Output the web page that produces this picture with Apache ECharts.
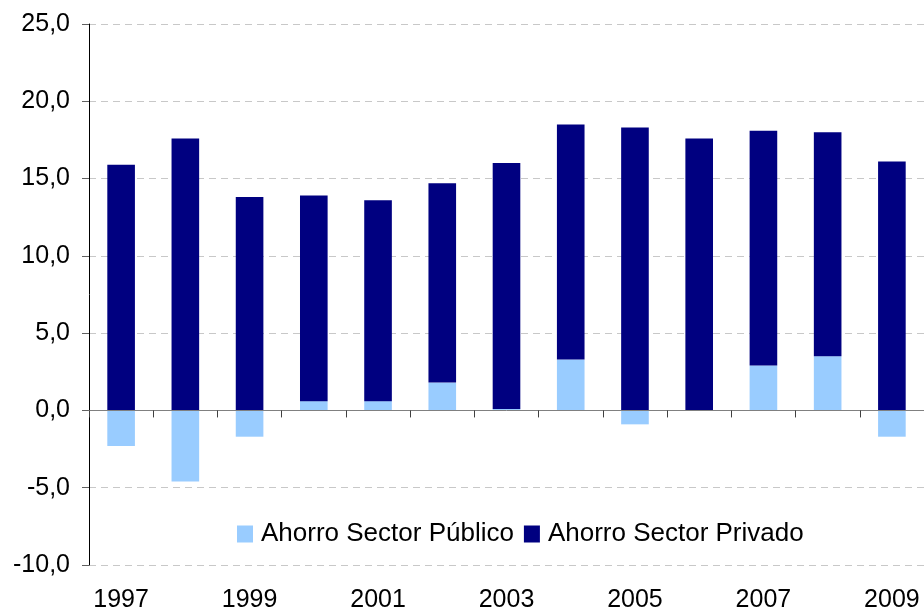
<!DOCTYPE html>
<html>
<head>
<meta charset="utf-8">
<script src="https://cdn.jsdelivr.net/npm/echarts@6/dist/echarts.min.js"></script>
<style>
    html, body { margin: 0; padding: 0; background: #fff; }
    #ahorro-diagram { width: 924px; height: 613px; }
</style>
</head>
<body>
<div id="ahorro-diagram"></div>
<script>
const years = ['1997', '1998', '1999', '2000', '2001', '2002', '2003', '2004', '2005', '2006', '2007', '2008', '2009'];
const ahorroPublico = [-2.3, -4.6, -1.7, 0.6, 0.6, 1.8, 0.1, 3.3, -0.9, 0.0, 2.9, 3.5, -1.7];
const ahorroPrivado = [15.9, 17.6, 13.8, 13.3, 13.0, 12.9, 15.9, 15.2, 18.3, 17.6, 15.2, 14.5, 16.1];
const yMin = -10, yMax = 25, yStep = 5;

const fontFamily = 'Liberation Sans, Arial, sans-serif';

let chart = echarts.init(document.getElementById('ahorro-diagram'));

let option = {
    backgroundColor: '#fff',
    animation: false,
    textStyle: { fontFamily: fontFamily },
    grid: {
        left: 89,
        top: 24,
        width: 839,
        bottom: 47.5
    },
    legend: {
        left: 237,
        top: 521,
        padding: 0,
        icon: 'rect',
        itemWidth: 16,
        itemHeight: 17,
        itemGap: 10,
        textStyle: {
            fontSize: 26,
            color: '#000',
            fontFamily: fontFamily,
            padding: [0, 0, 0, 3]
        },
        data: ['Ahorro Sector Público', 'Ahorro Sector Privado']
    },
    xAxis: [
        {
            // labels along the bottom
            type: 'category',
            data: years,
            position: 'bottom',
            axisLine: { show: false, onZero: false },
            axisTick: { show: false },
            axisLabel: {
                interval: 1,
                margin: 23,
                fontSize: 25,
                color: '#000',
                fontFamily: fontFamily
            },
            splitLine: { show: false }
        },
        {
            // zero line with ticks
            type: 'category',
            data: years,
            position: 'bottom',
            z: 10,
            axisLine: { show: true, onZero: true, lineStyle: { color: '#808080', width: 1 } },
            axisTick: { show: true, length: 7, lineStyle: { color: '#404040', width: 1 } },
            axisLabel: { show: false },
            splitLine: { show: false }
        }
    ],
    yAxis: {
        type: 'value',
        min: yMin,
        max: yMax,
        interval: yStep,
        axisLine: { show: true, lineStyle: { color: '#000', width: 1 } },
        axisTick: { show: true, length: 7, lineStyle: { color: '#606060', width: 1 } },
        axisLabel: {
            margin: 19,
            fontSize: 25,
            color: '#000',
            fontFamily: fontFamily,
            formatter: v => v.toFixed(1).replace('.', ',')
        },
        splitLine: {
            show: true,
            lineStyle: { color: '#c8c8c8', type: [7, 5], width: 1 }
        }
    },
    series: [
        {
            name: 'Ahorro Sector Público',
            type: 'bar',
            stack: 'ahorro',
            barWidth: '43%',
            itemStyle: { color: '#99ccff' },
            data: ahorroPublico
        },
        {
            name: 'Ahorro Sector Privado',
            type: 'bar',
            stack: 'ahorro',
            barWidth: '43%',
            itemStyle: { color: '#000080' },
            data: ahorroPrivado
        }
    ]
};

chart.setOption(option);
</script>
</body>
</html>
